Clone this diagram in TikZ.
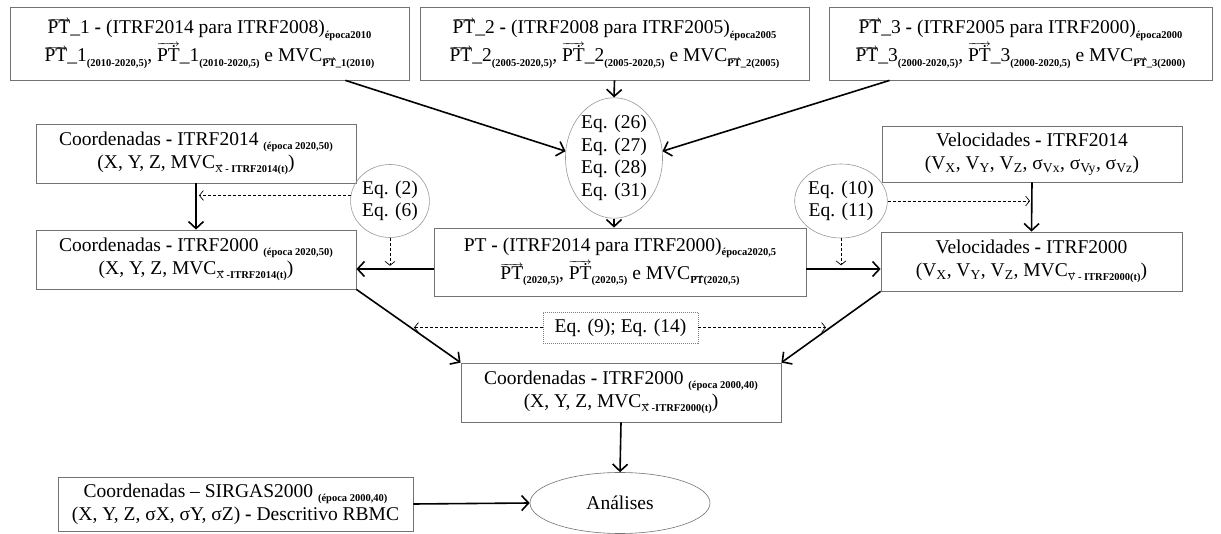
\documentclass[tikz,border=0pt]{standalone}
\usepackage{fontspec}
\setmainfont{Liberation Serif}
\usetikzlibrary{arrows.meta,shapes.geometric,calc}
\newsavebox\arrbox
\makeatletter
\newcommand{\arrowover}[2]{\sbox\arrbox{#1}\vbox{\offinterlineskip\m@th
  \hbox to\wd\arrbox{\fontsize{#2}{#2}\selectfont\mathversion{bold}\rightarrowfill}\kern-1.2pt\box\arrbox}}
\makeatother
\newcommand{\lowsub}[1]{\raisebox{-0.5ex}{\fontsize{10.5}{12}\selectfont\bfseries #1}}
\newcommand{\vpt}{\arrowover{PT}{9}}
\newcommand{\vdpt}{\arrowover{P\.{T}}{9}}
\newcommand{\svpt}{\arrowover{PT}{6}}
\newcommand{\vx}[1]{\arrowover{\mdseries #1}{6}}
\tikzset{
  box/.style={draw=black!55, line width=0.8pt, inner sep=0pt, align=center,
    font=\fontsize{19.5}{23}\selectfont},
  eqell/.style={draw=black!40, ellipse, line width=0.6pt, inner sep=0pt, align=center,
    font=\fontsize{19.5}{22.5}\selectfont},
  eqbox/.style={draw=black!50, line width=0.6pt, dash pattern=on 1pt off 1pt, inner sep=0pt,
    align=center, font=\fontsize{19.5}{23}\selectfont},
  arr/.style={line width=1.6pt, -{Straight Barb[length=7pt,width=15pt]}},
  darr/.style={line width=0.7pt, dash pattern=on 3pt off 2pt, -{Straight Barb[length=4pt,width=10pt]}}
}
\begin{document}
\begin{tikzpicture}[x=1pt,y=-1pt]
\useasboundingbox[fill=white] (0,0) rectangle (1221,534);

\node[box, minimum width=399pt, minimum height=73pt] (box1) at (209.5,43.5)
 {\vpt\_1 \textbf{-} (ITRF2014 para ITRF2008)\lowsub{época2010}\\[2pt]
  \vpt\_1\lowsub{(2010-2020,5)}, \vdpt\_1\lowsub{(2010-2020,5)} e MVC\lowsub{\svpt\_1(2010)}};
\node[box, minimum width=389pt, minimum height=73pt] (box2) at (614.5,43.5)
 {\vpt\_2 \textbf{-} (ITRF2008 para ITRF2005)\lowsub{época2005}\\[2pt]
  \vpt\_2\lowsub{(2005-2020,5)}, \vdpt\_2\lowsub{(2005-2020,5)} e MVC\lowsub{\svpt\_2(2005)}};
\node[box, minimum width=383pt, minimum height=73pt] (box3) at (1020.5,43.5)
 {\vpt\_3 \textbf{-} (ITRF2005 para ITRF2000)\lowsub{época2000}\\[2pt]
  \vpt\_3\lowsub{(2000-2020,5)}, \vdpt\_3\lowsub{(2000-2020,5)} e MVC\lowsub{\svpt\_3(2000)}};

\node[eqell, minimum width=97pt, minimum height=113pt] (eqA) at (614,158)
 {Eq. (26)\\Eq. (27)\\Eq. (28)\\Eq. (31)};

\node[box, minimum width=320pt, minimum height=59pt] (c14) at (196,153.5)
 {Coordenadas \textbf{-} ITRF2014 \lowsub{(época 2020,50)}\\
  (X, Y, Z, MVC\lowsub{\vx{X} - ITRF2014(t)})};
\node[box, minimum width=320pt, minimum height=59pt] (c00) at (196,259.5)
 {Coordenadas \textbf{-} ITRF2000 \lowsub{(época 2020,50)}\\
  (X, Y, Z, MVC\lowsub{\vx{X} -ITRF2014(t)})};
\node[eqell, minimum width=75pt, minimum height=73pt] (eqB) at (390,201)
 {Eq. (2)\\Eq. (6)};

\node[box, minimum width=372pt, minimum height=68pt] (pt) at (620,262)
 {PT \textbf{-} (ITRF2014 para ITRF2000)\lowsub{época2020,5}\\[2pt]
  \vpt\lowsub{(2020,5)}, \vdpt\lowsub{(2020,5)} e MVC\lowsub{\svpt(2020,5)}};

\node[box, minimum width=300pt, minimum height=56pt] (v14) at (1032,154)
 {Velocidades \textbf{-} ITRF2014\\
  (V\textsubscript{X}, V\textsubscript{Y}, V\textsubscript{Z}, σ\textsubscript{Vx}, σ\textsubscript{Vy}, σ\textsubscript{Vz})};
\node[box, minimum width=301pt, minimum height=59pt] (v00) at (1031.5,261.5)
 {Velocidades \textbf{-} ITRF2000\\
  (V\textsubscript{X}, V\textsubscript{Y}, V\textsubscript{Z}, MVC\lowsub{\vx{V} - ITRF2000(t)})};
\node[eqell, minimum width=77pt, minimum height=74pt] (eqC) at (841,201)
 {Eq. (10)\\Eq. (11)};

\node[eqbox, minimum width=155pt, minimum height=31pt] (eqD) at (620.5,327.5)
 {Eq. (9); Eq. (14)};

\node[box, minimum width=320pt, minimum height=59pt] (cfin) at (621,392.5)
 {Coordenadas \textbf{-} ITRF2000 \lowsub{(época 2000,40)}\\
  (X, Y, Z, MVC\lowsub{\vx{X} -ITRF2000(t)})};

\node[box, minimum width=355pt, minimum height=54pt] (sirgas) at (235.5,504)
 {Coordenadas – SIRGAS2000 \lowsub{(época 2000,40)}\\
  (X, Y, Z, σX, σY, σZ) \textbf{-} Descritivo RBMC};
\node[eqell, draw=black!55, minimum width=180pt, minimum height=61pt] (anal) at (620,503)
 {Análises};

\coordinate (dl) at (414,327.5);
\coordinate (dr) at (826,327.5);

% connectors
\draw[arr] ([xshift=-64pt]box1.south east) -- (eqA.172);
\draw[arr] ([xshift=61pt]box3.south west) -- (eqA.8);
\draw[arr] (box2.south) -- (eqA.north);
\draw[arr] (eqA.south) -- (eqA.south |- pt.north);
\draw[arr] (c14.south) -- (c00.north);
\draw[arr] (v14.south) -- (v00.north);
\draw[arr] ([yshift=-7pt]pt.west) -- ([yshift=-7pt]pt.west -| c00.east);
\draw[arr] ([yshift=-7pt]pt.east) -- ([yshift=-7pt]pt.east -| v00.west);
\draw[arr] (c00.south east) -- (cfin.north west);
\draw[arr] (v00.south west) -- (cfin.north east);
\draw[arr] (cfin.south) -- (anal.north);
\draw[arr] (sirgas.east) -- (anal.west);

\draw[darr, shorten >=3pt] (eqB.172) -- (eqB.172 -| c14.south);
\draw[darr] (eqB.south) -- ++(0,28);
\draw[darr, shorten >=2pt] (eqC.east) -- (eqC.east -| v14.south);
\draw[darr] (eqC.south) -- ++(0,27);
\draw[darr] (eqD.west) -- (dl);
\draw[darr] (eqD.east) -- (dr);
\end{tikzpicture}
\end{document}
